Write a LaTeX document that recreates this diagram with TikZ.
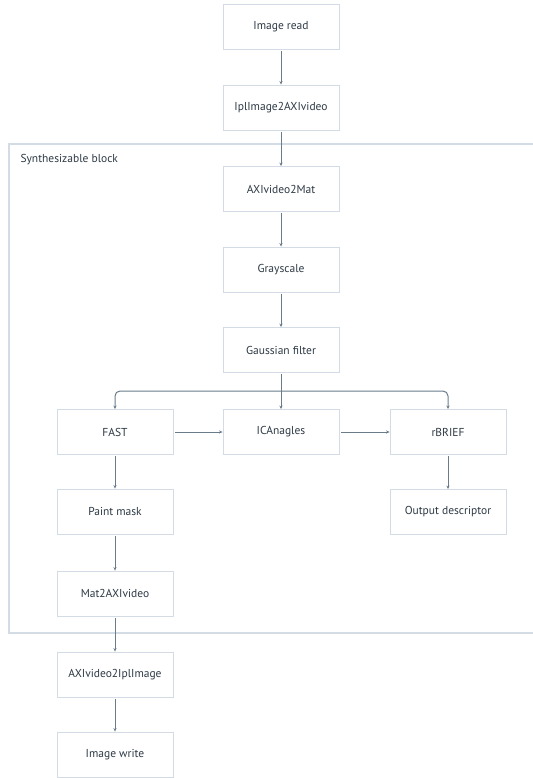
\documentclass[tikz,border=0pt]{standalone}
\usepackage{fontspec}
\setmainfont{PT Sans}
\usetikzlibrary{arrows.meta}
\definecolor{boxc}{HTML}{D3DCE4}
\definecolor{linec}{HTML}{6A7C8A}
\definecolor{txtc}{HTML}{2E3A45}
\tikzset{
  box/.style={draw=boxc, line width=0.9bp, fill=white, minimum width=116bp, minimum height=45bp, inner sep=0pt, text=txtc, font=\fontsize{11.5bp}{13bp}\selectfont},
  conn/.style={draw=linec, line width=1bp, -{Stealth[length=3.5bp,width=3.2bp]}, shorten <=1.5bp},
  group/.style={draw=boxc, line width=1.1bp}
}
\begin{document}
\begin{tikzpicture}[x=1bp,y=-1bp]
\useasboundingbox (0,0) rectangle (533,778);
% synthesizable block
\draw[group] (540,144) -- (9,144) -- (9,633) -- (540,633);
\node[anchor=base west, text=txtc, font=\fontsize{11.5bp}{13bp}\selectfont] (lbl) at (17,162) {Synthesizable block};
% boxes
\node[box] (read) at (281,26.5) {Image read};
\node[box] (ipl) at (281,107.5) {IplImage2AXIvideo};
\node[box] (a2m) at (281,189) {AXIvideo2Mat};
\node[box] (gray) at (281,269.5) {Grayscale};
\node[box] (gauss) at (281,350) {Gaussian filter};
\node[box] (fast) at (115,432) {FAST};
\node[box] (ica) at (281,432) {ICAnagles};
\node[box] (rbrief) at (448,432) {rBRIEF};
\node[box] (paint) at (115,511.5) {Paint mask};
\node[box] (m2a) at (115,593.5) {Mat2AXIvideo};
\node[box] (a2i) at (115,674.5) {AXIvideo2IplImage};
\node[box] (write) at (115,754.5) {Image write};
\node[box] (outd) at (448,512) {Output descriptor};
% connectors
\draw[conn] (read) -- (ipl);
\draw[conn] (ipl) -- (a2m);
\draw[conn] (a2m) -- (gray);
\draw[conn] (gray) -- (gauss);
\coordinate (br) at (281,391);
\draw[conn] (gauss) -- (ica);
\draw[conn, rounded corners=5bp, shorten <=0pt] (br) -| (fast.north);
\draw[conn, rounded corners=5bp, shorten <=0pt] (br) -| (rbrief.north);
\draw[conn] (fast) -- (ica);
\draw[conn] (ica) -- (rbrief);
\draw[conn] (rbrief) -- (outd);
\draw[conn] (fast) -- (paint);
\draw[conn] (paint) -- (m2a);
\draw[conn] (m2a) -- (a2i);
\draw[conn] (a2i) -- (write);
\end{tikzpicture}
\end{document}
